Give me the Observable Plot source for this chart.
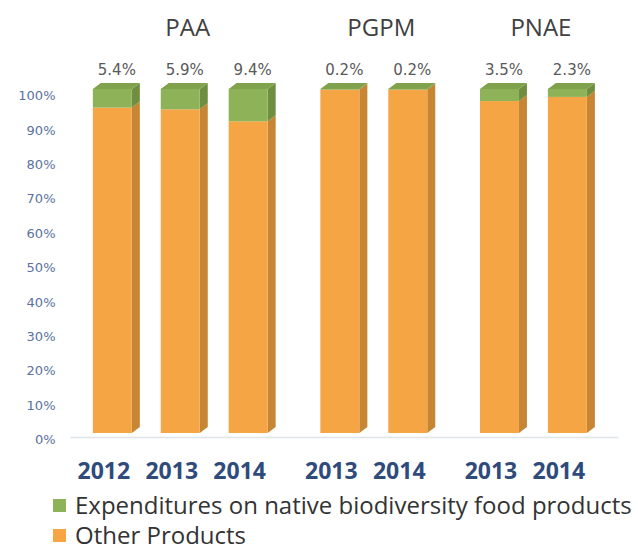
<!DOCTYPE html>
<html>
<head>
<meta charset="utf-8">
<script src="https://cdn.jsdelivr.net/npm/d3@7"></script>
<script src="https://cdn.jsdelivr.net/npm/@observablehq/plot@0.6"></script>
<style>
  body { margin: 0; background: #fff; font-family: "Open Sans", sans-serif; overflow: hidden; }
  #legend { margin-left: 53px; padding-top: 5px; }
  .row { display: flex; align-items: center; height: 24px; line-height: 24px; font-size: 24px; color: #333; }
  .row + .row { margin-top: 6px; }
  .sw { width: 13px; height: 13px; margin-right: 9px; flex: none; }
</style>
</head>
<body>
<div id="chart"></div>
<div id="legend"></div>
<script>
// Share of food purchases by programme and year (percent)
const programs = ["PAA", "PAA", "PAA", "PGPM", "PGPM", "PNAE", "PNAE"];
const years = ["2012", "2013", "2014", "2013", "2014", "2013", "2014"];
const nativeShare = [5.4, 5.9, 9.4, 0.2, 0.2, 3.5, 2.3];
const otherShare = [94.6, 94.1, 90.6, 99.8, 99.8, 96.5, 97.7];
const groups = ["PAA", "PGPM", "PNAE"];
const yTicks = [0, 10, 20, 30, 40, 50, 60, 70, 80, 90, 100];
const seriesNames = ["Expenditures on native biodiversity food products", "Other Products"];

// Colours: front face, side face, top face
const green = {front: "#8db257", side: "#6f8e40", top: "#80a24c"};
const orange = {front: "#f6a545", side: "#c68634", top: "#e59a3c"};

// Bars sit one unit apart, with extra room between programmes
const GROUP_GAP = 0.35;
const HW = 0.287;   // half width of the front face (x units)
const DX = 0.118;   // depth offset to the right (x units)
const DY = 1.75;    // depth offset upward (percent units)

const bars = programs.map((p, i) => ({
  id: i,
  program: p,
  year: years[i],
  native: nativeShare[i],
  other: otherShare[i],
  pos: i + groups.indexOf(p) * GROUP_GAP
}));

// Stacked segments: other products at the bottom, native products on top
const segments = bars.flatMap(b => [
  {id: b.id + "o", pos: b.pos, lo: 0, hi: b.other, c: orange},
  {id: b.id + "n", pos: b.pos, lo: b.other, hi: b.other + b.native, c: green}
]);

const sides = segments.flatMap(s => [
  {id: s.id, x: s.pos + HW, y1: s.lo, y2: s.hi, fill: s.c.side},
  {id: s.id, x: s.pos + HW + DX, y1: s.lo + DY, y2: s.hi + DY, fill: s.c.side}
]);

const tops = bars.flatMap(b => {
  const top = b.other + b.native;
  const c = b.native > 0 ? green.top : orange.top;
  return [
    {id: b.id, y: top, x1: b.pos - HW, x2: b.pos + HW, fill: c},
    {id: b.id, y: top + DY, x1: b.pos - HW + DX, x2: b.pos + HW + DX, fill: c}
  ];
});

const groupLabels = groups.map(g => {
  const members = bars.filter(b => b.program === g);
  return {program: g, pos: d3.mean(members, b => b.pos), top: 100};
});

const chart = Plot.plot({
  width: 638,
  height: 488,
  marginLeft: 58,
  marginRight: 0,
  marginTop: 89,
  marginBottom: 55,
  style: {fontFamily: "DejaVu Sans, sans-serif", background: "#fff"},
  x: {domain: [-0.8, 7.74], axis: null},
  y: {domain: [0, 100], axis: null},
  color: {type: "identity"},
  marks: [
    // floor line
    Plot.ruleY([0], {
      x1: bars[0].pos - 0.62,
      x2: bars[bars.length - 1].pos + 0.75,
      dy: 4, stroke: "#dfe3ea", strokeWidth: 1.5
    }),
    Plot.axisY(yTicks, {
      anchor: "left", tickSize: 0, tickPadding: 3, dy: 6.5,
      tickFormat: d => d + "%", fontSize: 13, fill: "#5a72a0", label: null
    }),
    Plot.areaY(sides, {x: "x", y1: "y1", y2: "y2", z: "id", fill: "fill"}),
    Plot.areaX(tops, {y: "y", x1: "x1", x2: "x2", z: "id", fill: "fill"}),
    Plot.rectY(segments, {
      x1: d => d.pos - HW, x2: d => d.pos + HW,
      y1: "lo", y2: "hi", fill: d => d.c.front
    }),
    // value labels for the native-products share
    Plot.text(bars, {
      x: d => d.pos + DX / 2, y: d => d.other + d.native,
      text: d => d.native.toFixed(1) + "%",
      dy: -19, fontSize: 15, fill: "#595959"
    }),
    // programme titles
    Plot.text(groupLabels, {
      x: "pos", y: "top", text: "program", dx: 7, dy: -61,
      fontSize: 24, fill: "#404040", fontFamily: "Open Sans, sans-serif"
    }),
    // year labels under each bar
    Plot.text(bars, {
      x: "pos", y: () => 0, text: "year", dx: -9, dy: 38,
      fontSize: 23, fontWeight: "bold", fill: "#2f4b7c",
      fontFamily: "Open Sans, sans-serif"
    })
  ]
});

document.getElementById("chart").append(chart);

// Legend below the chart
const legend = document.getElementById("legend");
[[seriesNames[0], green.front], [seriesNames[1], orange.front]].forEach(([label, color]) => {
  const row = document.createElement("div");
  row.className = "row";
  const sw = document.createElement("span");
  sw.className = "sw";
  sw.style.background = color;
  const tx = document.createElement("span");
  tx.textContent = label;
  row.append(sw, tx);
  legend.append(row);
});
</script>
</body>
</html>
